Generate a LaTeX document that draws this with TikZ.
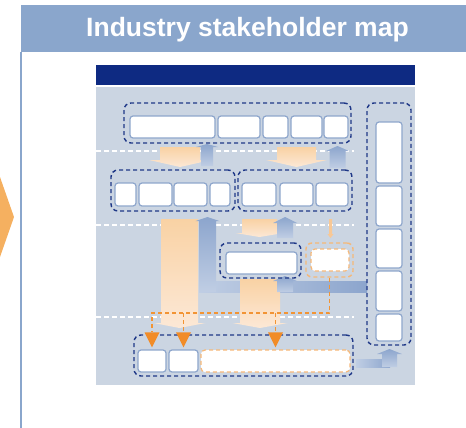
\documentclass[tikz,border=0pt]{standalone}
\usepackage{fontspec}
\setmainfont{Liberation Sans}
\usetikzlibrary{fit,calc}
\definecolor{band}{RGB}{138,166,204}
\definecolor{navy}{RGB}{14,42,130}
\definecolor{panel}{RGB}{203,213,226}
\definecolor{grp}{RGB}{30,55,135}
\definecolor{boxline}{RGB}{142,166,204}
\definecolor{orT}{RGB}{249,210,164}
\definecolor{orB}{RGB}{252,232,214}
\definecolor{blT}{RGB}{140,165,205}
\definecolor{blB}{RGB}{192,206,228}
\definecolor{ordash}{RGB}{242,148,52}
\definecolor{orlight}{RGB}{246,184,120}
\definecolor{otri}{RGB}{241,140,40}
\definecolor{chev}{RGB}{245,176,96}
\definecolor{thinor}{RGB}{248,200,150}
% #1 top colour, #2 bottom colour, #3 centre x, #4 shaft half width, #5 head half width, #6 shaft start y, #7 head base y, #8 tip y
\newcommand\blockarrow[8]{\shade[top color=#1,bottom color=#2] (#3-#4,#6) -- (#3+#4,#6) -- (#3+#4,#7) -- (#3+#5,#7) -- (#3,#8) -- (#3-#5,#7) -- (#3-#4,#7) -- cycle;}
\begin{document}
\begin{tikzpicture}[x=1pt,y=-1pt,
  box/.style={draw=boxline, line width=1.2pt, fill=white, rounded corners=3pt, inner sep=0pt},
  grpbox/.style={draw=grp, line width=1.4pt, dash pattern=on 4pt off 3pt, rounded corners=7pt, inner sep=0pt},
  ogrp/.style={draw=orlight, line width=1.4pt, dash pattern=on 4pt off 3pt, rounded corners=6pt, inner sep=0pt},
  obox/.style={draw=orlight, line width=1.2pt, dash pattern=on 4pt off 3pt, fill=white, rounded corners=4pt, inner sep=0pt},
  wdash/.style={draw=white, line width=1.2pt, dash pattern=on 5pt off 3pt},
  odash/.style={draw=ordash, line width=1.4pt, dash pattern=on 4pt off 3pt}]
\useasboundingbox (0,0) rectangle (466,428);
% header
\fill[band] (21,5) rectangle (466,52);
\node[anchor=base, text=white, font=\fontsize{26.5}{30}\selectfont\bfseries] (title) at (247.5,37) {Industry stakeholder map};
\draw[band, line width=1.2pt] (21,52) -- (21,428);
\fill[chev] (0,177) -- (14,217) -- (0,257) -- cycle;
% panel
\fill[navy] (96,65) rectangle (415,85);
\fill[panel] (96,87) rectangle (415,385);
\foreach \yy in {151,225,317} \draw[wdash] (96,\yy) -- (354,\yy);
% block arrows behind
\blockarrow{orT}{orB}{180}{20}{31}{147}{160}{167}
\blockarrow{blT}{blB}{207}{6}{11}{166}{147}{144}
\blockarrow{orT}{orB}{296.5}{19.5}{30.5}{147}{160}{167}
\blockarrow{blT}{blB}{337.5}{8}{11.5}{168}{151}{146}
\blockarrow{orT}{orB}{179.5}{18.5}{26}{219}{323}{328}
\shade[left color=blB, right color=blT] (199,281) rectangle (367,292);
\blockarrow{blT}{blB}{207.5}{8.5}{12}{292}{221}{217}
\blockarrow{orT}{orB}{259.5}{17.5}{24}{219}{233}{237}
\blockarrow{blT}{blB}{285}{8}{12}{238}{223}{217}
\blockarrow{thinor}{thinor}{330.5}{1.5}{3}{219}{234}{238}
\blockarrow{orT}{orB}{260}{20}{27.5}{279}{323}{328}
\blockarrow{blT}{blB}{285}{8}{12}{292}{281}{276}
\shade[left color=blB, right color=blT] (356,359) rectangle (390,367);
\blockarrow{blT}{blB}{389.5}{7.5}{12.5}{367}{354}{349}
% top group
\node[grpbox, fit={(124,103)(351,143)}] (g1) {};
\node[box, fit={(130,116)(215,138)}] (t1) {};
\node[box, fit={(218,116)(260,138)}] (t2) {};
\node[box, fit={(263,116)(288,138)}] (t3) {};
\node[box, fit={(291,116)(322,138)}] (t4) {};
\node[box, fit={(324,116)(348,138)}] (t5) {};
% second row
\node[grpbox, fit={(111,170)(235,211)}] (g2) {};
\node[box, fit={(115,183)(136,206)}] (s1) {};
\node[box, fit={(139,183)(172,206)}] (s2) {};
\node[box, fit={(174,183)(207,206)}] (s3) {};
\node[box, fit={(210,183)(230,206)}] (s4) {};
\node[grpbox, fit={(238,170)(352,211)}] (g3) {};
\node[box, fit={(242,183)(276,206)}] (s5) {};
\node[box, fit={(280,183)(313,206)}] (s6) {};
\node[box, fit={(316,183)(348,206)}] (s7) {};
% middle
\node[grpbox, fit={(220,243)(301,278)}] (g4) {};
\node[box, fit={(226,252)(297,274)}] (m1) {};
\node[ogrp, fit={(306,243)(353,277)}] (og) {};
\node[obox, fit={(311,249)(349,271)}] (m2) {};
% right column
\node[grpbox, fit={(367,103)(411,345)}] (g5) {};
\node[box, fit={(376,122)(402,183)}] (r1) {};
\node[box, fit={(376,186)(402,226)}] (r2) {};
\node[box, fit={(376,229)(402,268)}] (r3) {};
\node[box, fit={(376,271)(402,311)}] (r4) {};
\node[box, fit={(376,314)(402,341)}] (r5) {};
% bottom group
\node[grpbox, fit={(134,335)(353,376)}] (g6) {};
\node[box, fit={(138,350)(166,372)}] (b1) {};
\node[box, fit={(169,350)(198,372)}] (b2) {};
\node[obox, fit={(201,350)(350,372)}] (b3) {};
% orange dashed connectors
\coordinate (jr) at (og.south |- 0,313);
\coordinate (jl) at (b1.north |- 0,313);
\coordinate (a1) at ($(b1.north)+(0,-17)$);
\coordinate (a2) at ($(b2.north)+(0,-17)$);
\coordinate (a3) at ($(b3.north)+(0,-17)$);
\draw[odash] (og.south) -- (jr) -- (jl) -- (a1);
\draw[odash] (a2 |- jl) -- (a2);
\draw[odash] (a3 |- jl) -- (a3);
\foreach \a in {a1,a2,a3} \fill[otri] (\a) ++(-7.5,0) -- ++(15,0) -- ++(-7.5,15) -- cycle;
\end{tikzpicture}
\end{document}
